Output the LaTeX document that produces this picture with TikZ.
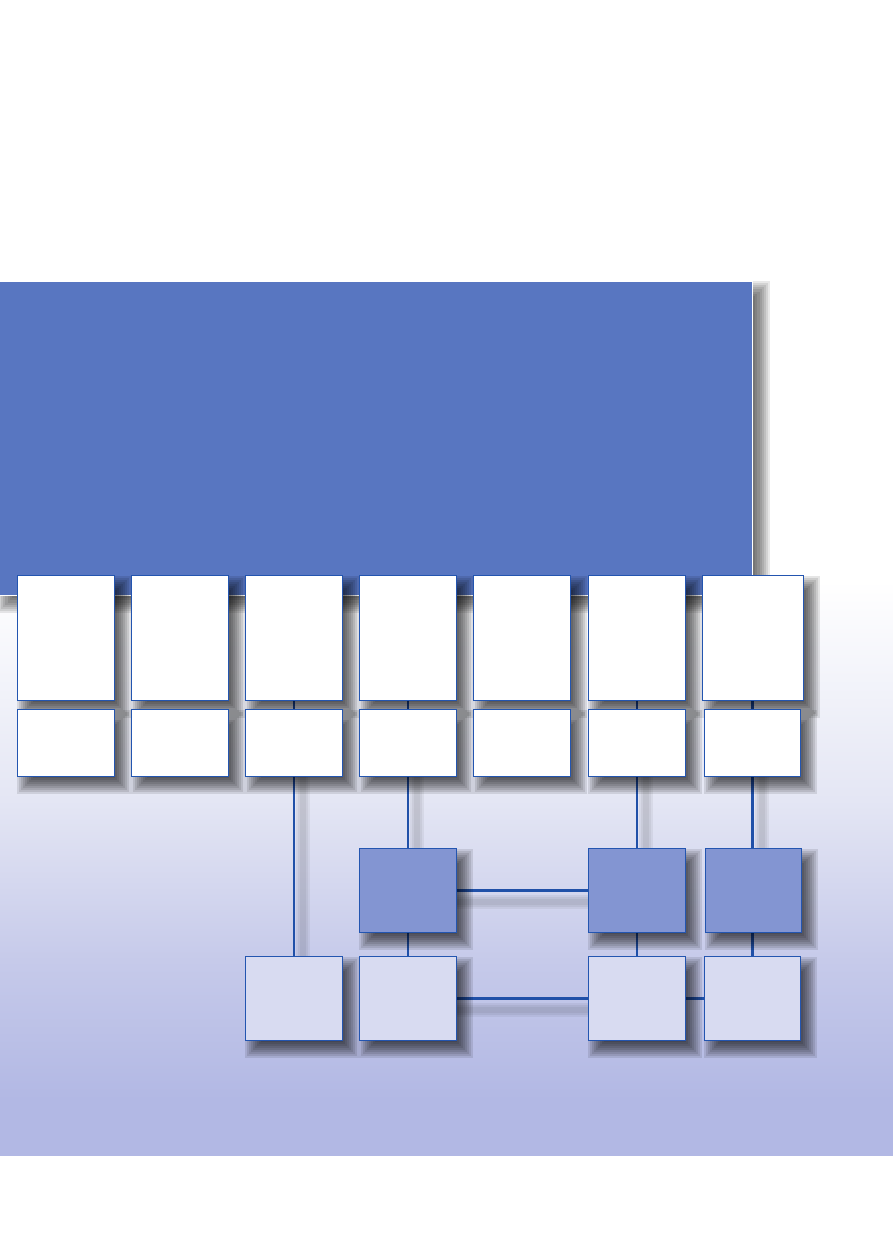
\documentclass[tikz,border=0pt]{standalone}
\definecolor{panelblue}{RGB}{88,118,193}
\definecolor{edgeblue}{RGB}{35,85,176}
\definecolor{lineblue}{RGB}{32,80,168}
\definecolor{darkfill}{RGB}{131,149,210}
\definecolor{lightfill}{RGB}{216,219,241}
\definecolor{skymid}{RGB}{228,230,244}
\definecolor{skydeep}{RGB}{198,202,234}
\definecolor{skylow}{RGB}{178,184,228}
\pgfdeclarelayer{skylayer}
\pgfdeclarelayer{lines}
\pgfdeclarelayer{shadows}
\pgfsetlayers{skylayer,lines,shadows,main}
\begin{document}
\begin{tikzpicture}[x=1pt,y=1pt,
  box/.style={draw=edgeblue, line width=1.1pt, fill=white, anchor=north west, inner sep=0pt},
  tallbox/.style={box, minimum width=97pt, minimum height=125pt},
  midbox/.style={box, minimum width=97pt, minimum height=67pt},
  darkbox/.style={box, fill=darkfill, minimum width=97pt, minimum height=84pt},
  lightbox/.style={box, fill=lightfill, minimum width=97pt, minimum height=84pt},
  conn/.style={draw=lineblue, line width=2.3pt},
  shadowpiece/.style={fill=black, opacity=0.1},
  panelshadowpiece/.style={fill=black, opacity=0.09},
  connshadow/.style={draw=black, opacity=0.05},
  panel/.style={fill=panelblue, draw=white, line width=1pt, anchor=north west, inner sep=0pt}
]
\useasboundingbox (0,0) rectangle (893,-1259);
\begin{pgfonlayer}{skylayer}
  \fill[white] (0,0) rectangle (893,-1259);
  \shade[top color=white, bottom color=skymid] (0,-580) rectangle (893,-800);
  \shade[top color=skymid, bottom color=skydeep] (0,-800) rectangle (893,-960);
  \shade[top color=skydeep, bottom color=skylow] (0,-960) rectangle (893,-1100);
  \fill[skylow] (0,-1100) rectangle (893,-1156);
  % header panel with its soft shadow
  \coordinate (pnw) at (-3,-281);
  \coordinate (pse) at (752,-595);
  \foreach \k in {0,...,10}
    \fill[panelshadowpiece] ([shift={({21-2.1*\k},{-21+2.1*\k})}]pnw) rectangle ([shift={({-3+2.1*\k},{3-2.1*\k})}]pse);
  \node[panel, minimum width=755pt, minimum height=314pt] (hdr) at (pnw) {};
\end{pgfonlayer}

% row 1
\node[tallbox] (a1) at (17,-575) {};
\node[tallbox] (a2) at (131,-575) {};
\node[tallbox] (a3) at (245,-575) {};
\node[tallbox] (a4) at (359,-575) {};
\node[tallbox] (a5) at (473,-575) {};
\node[tallbox] (a6) at (588,-575) {};
\node[tallbox, minimum width=101pt] (a7) at (702,-575) {};
% row 2
\node[midbox] (b1) at (17,-709) {};
\node[midbox] (b2) at (131,-709) {};
\node[midbox] (b3) at (245,-709) {};
\node[midbox] (b4) at (359,-709) {};
\node[midbox] (b5) at (473,-709) {};
\node[midbox] (b6) at (588,-709) {};
\node[midbox, minimum width=96pt] (b7) at (704,-709) {};
% row 3
\node[darkbox] (c4) at (359,-848) {};
\node[darkbox] (c6) at (588,-848) {};
\node[darkbox, minimum width=96pt] (c7) at (705,-848) {};
% row 4
\node[lightbox] (d3) at (245,-956) {};
\node[lightbox] (d4) at (359,-956) {};
\node[lightbox] (d6) at (588,-956) {};
\node[lightbox, minimum width=96pt] (d7) at (704,-956) {};

\begin{pgfonlayer}{shadows}
  \foreach \n in {a1,a2,a3,a4,a5,a6,a7,b1,b2,b3,b4,b5,b6,b7,c4,c6,c7,d3,d4,d6,d7}
    \foreach \k in {0,...,9}
      \fill[shadowpiece] ([shift={({18-2*\k},{-19+2*\k})}]\n.north west) rectangle ([shift={({-2+2*\k},{1-2*\k})}]\n.south east);
\end{pgfonlayer}

\begin{pgfonlayer}{lines}
  % soft shadows of connectors
  \foreach \w in {14,10,6} {
    \draw[connshadow, line width=\w pt] ([xshift=9pt]b3.south) -- ([xshift=9pt]b3.south |- d3.north);
    \draw[connshadow, line width=\w pt] ([xshift=9pt]b4.south) -- ([xshift=9pt]b4.south |- c4.north);
    \draw[connshadow, line width=\w pt] ([xshift=9pt]b6.south) -- ([xshift=9pt]b6.south |- c6.north);
    \draw[connshadow, line width=\w pt] ([xshift=9pt]b7.south) -- ([xshift=9pt]b7.south |- c7.north);
    \draw[connshadow, line width=\w pt] ([yshift=-11pt]c4.east) -- ([yshift=-11pt]c6.west);
    \draw[connshadow, line width=\w pt] ([yshift=-11pt]d4.east) -- ([yshift=-11pt]d6.west);
  }
  % connectors
  \draw[conn] (a3.south) -- (a3.south |- b3.north);
  \draw[conn] (b3.south) -- (b3.south |- d3.north);
  \draw[conn] (a4.south) -- (a4.south |- b4.north);
  \draw[conn] (b4.south) -- (b4.south |- c4.north);
  \draw[conn] (c4.south) -- (c4.south |- d4.north);
  \draw[conn] (a6.south) -- (a6.south |- b6.north);
  \draw[conn] (b6.south) -- (b6.south |- c6.north);
  \draw[conn] (c6.south) -- (c6.south |- d6.north);
  \draw[conn] (b7.north) -- (b7.north |- a7.south);
  \draw[conn] (b7.south) -- (b7.south |- c7.north);
  \draw[conn] (d7.north) -- (d7.north |- c7.south);
  \draw[conn] (c4.east) -- (c6.west);
  \draw[conn] (d4.east) -- (d6.west);
  \draw[conn] (d6.east) -- (d6.east -| d7.west);
\end{pgfonlayer}
\end{tikzpicture}
\end{document}
